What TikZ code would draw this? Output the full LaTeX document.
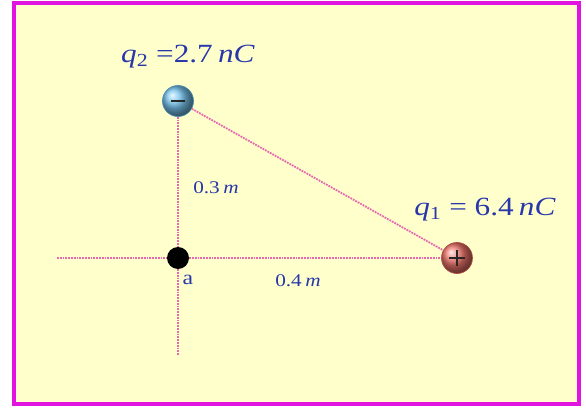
\documentclass[tikz,border=0pt]{standalone}
\usepackage{fontspec}
\setmainfont{Liberation Serif}
\usepackage{graphicx}
\usetikzlibrary{positioning,backgrounds}

\definecolor{paper}{RGB}{255,255,204}
\definecolor{frame}{RGB}{225,20,225}
\definecolor{guide}{RGB}{228,105,175}
\definecolor{ink}{RGB}{40,55,170}
\definecolor{negball}{RGB}{95,185,235}
\definecolor{posball}{RGB}{235,100,90}

% text in the figure is set a little wider than tall
\newcommand{\wide}[1]{\scalebox{1.25}[1.05]{#1}}

\begin{document}
\begin{tikzpicture}[
  x=1pt, y=-1pt,
  charge/.style={circle, minimum size=31pt, inner sep=0pt, draw=#1!75!black, line width=0.7pt},
  point/.style={circle, fill=black, minimum size=22pt, inner sep=0pt},
  guideline/.style={draw=guide, densely dotted, line width=1.8pt},
  lbl/.style={text=ink, inner sep=1pt},
  sign/.style={line width=1.6pt, black!85},
]
\useasboundingbox (0,0) rectangle (586,409);

\node[point] (a) at (178,258) {};
\node[charge=negball, ball color=negball!85!white] (q2) at (178,101) {};
\node[charge=posball, ball color=posball!90!white] (q1) at (457,258) {};
\coordinate (west) at (57,258);
\coordinate (south) at (178,355);

\draw[sign] ([xshift=-7pt]q2.center) -- ([xshift=7pt]q2.center);
\draw[sign] ([xshift=-8pt]q1.center) -- ([xshift=8pt]q1.center);
\draw[sign] ([yshift=-8pt]q1.center) -- ([yshift=8pt]q1.center);

\begin{scope}[on background layer]
\draw[fill=paper, draw=frame, line width=4pt] (14,3) rectangle (579,404);
\draw[guideline] (west) -- (a) -- (q1);
\draw[guideline] (q2) -- (a) -- (south);
\draw[guideline] (q2) -- (q1);
\end{scope}

\node[lbl, font=\fontsize{25}{27}\selectfont] (q2lbl) at (188,57) {\wide{\textit{q}\textsubscript{2} =2.7\,\textit{nC}}};
\node[lbl, font=\fontsize{25}{27}\selectfont] (q1lbl) at (485,210) {\wide{\textit{q}\textsubscript{1} = 6.4\,\textit{nC}}};
\node[lbl, font=\fontsize{17}{19}\selectfont] (dy) at (216,188) {\wide{0.3\,\textit{m}}};
\node[lbl, font=\fontsize{17}{19}\selectfont] (dx) at (298,281) {\wide{0.4\,\textit{m}}};
\node[lbl, font=\fontsize{19}{21}\selectfont] (alb) at (188,280) {\wide{a}};
\end{tikzpicture}
\end{document}
